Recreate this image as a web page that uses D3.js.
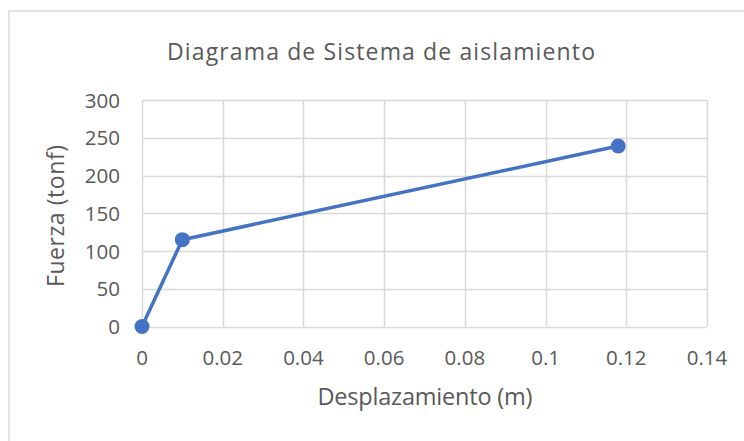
<!DOCTYPE html>
<html><head><meta charset="utf-8">
<script src="https://cdn.jsdelivr.net/npm/d3@7"></script>
<style>body{margin:0;background:#fff}svg{display:block}text{font-family:"Open Sans",sans-serif;fill:#595959}</style>
</head><body><svg id="c" width="744" height="441"></svg>
<script>
const xValues = [0, 0.01, 0.118];
const yValues = [0, 115, 239];
const xTicks = [0, 0.02, 0.04, 0.06, 0.08, 0.1, 0.12, 0.14];
const yTicks = [0, 50, 100, 150, 200, 250, 300];
const title = "Diagrama de Sistema de aislamiento";
const xTitle = "Desplazamiento (m)";
const yTitle = "Fuerza (tonf)";

const svg = d3.select("#c");
svg.append("rect").attr("x",9).attr("y",11).attr("width",750).attr("height",450)
  .attr("fill","#fff").attr("stroke","#d9d9d9").attr("stroke-width",1.5);

const x = d3.scaleLinear().domain([0,0.14]).range([142,707]);
const y = d3.scaleLinear().domain([0,300]).range([326.5,100]);

const g = svg.append("g");
g.selectAll(".vg").data(xTicks).join("line")
  .attr("x1",d=>Math.round(x(d))+0.5).attr("x2",d=>Math.round(x(d))+0.5)
  .attr("y1",y(300)).attr("y2",y(0)).attr("stroke","#d9d9d9").attr("stroke-width",1.5);
g.selectAll(".hg").data(yTicks).join("line")
  .attr("y1",d=>Math.round(y(d))+0.5).attr("y2",d=>Math.round(y(d))+0.5)
  .attr("x1",x(0)).attr("x2",x(0.14)).attr("stroke","#d9d9d9").attr("stroke-width",1.5);

g.selectAll(".xl").data(xTicks).join("text")
  .attr("x",d=>x(d)).attr("y",365).attr("text-anchor","middle")
  .attr("font-size",20.5).text(d=>d3.format("")(d));
g.selectAll(".yl").data(yTicks).join("text")
  .attr("x",120).attr("y",d=>y(d)+7.5).attr("text-anchor","end")
  .attr("font-size",20.5).text(d=>d);

svg.append("text").attr("x",381).attr("y",60).attr("text-anchor","middle")
  .attr("font-size",23).attr("textLength",428).attr("lengthAdjust","spacing").text(title);
svg.append("text").attr("x",425).attr("y",405).attr("text-anchor","middle")
  .attr("font-size",23.5).attr("textLength",215).attr("lengthAdjust","spacing").text(xTitle);
svg.append("text").attr("transform","translate(64,216) rotate(-90)").attr("text-anchor","middle")
  .attr("font-size",23).attr("textLength",142).attr("lengthAdjust","spacing").text(yTitle);

const pts = xValues.map((v,i)=>[v,yValues[i]]);
svg.append("path").datum(pts).attr("fill","none").attr("stroke","#4472C4").attr("stroke-width",3.5)
  .attr("stroke-linejoin","round")
  .attr("d",d3.line().x(d=>x(d[0])).y(d=>y(d[1])));
svg.selectAll(".pt").data(pts).join("circle")
  .attr("cx",d=>x(d[0])).attr("cy",d=>y(d[1])).attr("r",7.5).attr("fill","#4472C4");
</script></body></html>
